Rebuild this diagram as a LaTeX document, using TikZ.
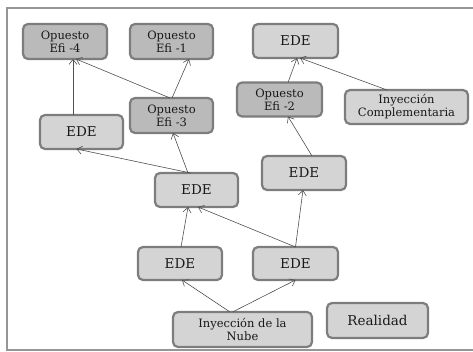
\documentclass[tikz,border=0pt]{standalone}
\usepackage{fontspec}
\setmainfont{DejaVu Serif}
\usetikzlibrary{arrows.meta}
\definecolor{lightfill}{RGB}{212,212,212}
\definecolor{darkfill}{RGB}{186,186,186}
\definecolor{boxline}{RGB}{125,125,125}
\definecolor{arrline}{RGB}{80,80,80}
\definecolor{frameline}{RGB}{150,150,150}
\tikzset{
  box/.style={draw=boxline, line width=2.2pt, rounded corners=5pt, align=center,
    inner sep=1pt, outer sep=0pt, text=black!90},
  lightbox/.style={box, fill=lightfill},
  darkbox/.style={box, fill=darkfill},
  big/.style={font=\fontsize{13.5}{15}\selectfont},
  small/.style={font=\fontsize{11.5}{13}\selectfont},
  arr/.style={draw=arrline, line width=0.6pt, -{Straight Barb[length=5pt,width=8pt]}},
}
\begin{document}
\begin{tikzpicture}[x=1pt, y=-1pt]
\useasboundingbox (0,0) rectangle (473,352);
\draw[frameline, line width=1.5pt] (473,8) -- (7,8) -- (7,350) -- (473,350);

\node[darkbox, small, minimum width=84pt, minimum height=35pt] (e4) at (65,41.5) {Opuesto\\Efi -4};
\node[darkbox, small, minimum width=83pt, minimum height=35pt] (e1) at (171.5,41.5) {Opuesto\\Efi -1};
\node[lightbox, big, minimum width=85pt, minimum height=34pt] (edeTR) at (295.5,41) {EDE};
\node[darkbox, small, minimum width=85pt, minimum height=34pt] (e2) at (279.5,99.5) {Opuesto\\Efi -2};
\node[lightbox, small, minimum width=123pt, minimum height=34pt] (comp) at (406.5,107) {Inyección\\Complementaria};
\node[darkbox, small, minimum width=83pt, minimum height=35pt] (e3) at (171.5,115.5) {Opuesto\\Efi -3};
\node[lightbox, big, minimum width=83pt, minimum height=34pt] (edeL) at (81.5,132) {EDE};
\node[lightbox, big, minimum width=83pt, minimum height=34pt] (edeC) at (196.5,190) {EDE};
\node[lightbox, big, minimum width=84pt, minimum height=34pt] (edeR) at (304,173) {EDE};
\node[lightbox, big, minimum width=84pt, minimum height=33pt] (edeBL) at (180,263.5) {EDE};
\node[lightbox, big, minimum width=85pt, minimum height=33pt] (edeBR) at (295.5,263.5) {EDE};
\node[lightbox, small, minimum width=139pt, minimum height=35pt] (nube) at (242.5,329.5) {Inyección de la\\Nube};
\node[lightbox, big, minimum width=101pt, minimum height=35pt] (real) at (377.5,320.5) {Realidad};

\draw[arr] ([xshift=-8.5pt]edeL.north) -- ([xshift=8pt]e4.south);
\draw[arr] ([xshift=-1.5pt]e3.north) -- ([xshift=11pt]e4.south);
\draw[arr] ([xshift=0.5pt]e3.north) -- ([xshift=17.5pt]e1.south);
\draw[arr] ([xshift=-8.5pt]edeC.north) -- ([xshift=1.5pt]e3.south);
\draw[arr] ([xshift=-6pt]edeC.north) -- ([xshift=-5pt]edeL.south);
\draw[arr] ([xshift=1pt]edeBL.north) -- ([xshift=-8.5pt]edeC.south);
\draw[arr] (edeBR.north) -- ([xshift=1.5pt]edeC.south);
\draw[arr] (edeBR.north) -- ([xshift=-1pt]edeR.south);
\draw[arr] ([xshift=-12.5pt]nube.north) -- ([xshift=2pt]edeBL.south);
\draw[arr] ([xshift=-10pt]nube.north) -- (edeBR.south);
\draw[arr] ([xshift=8pt]edeR.north) -- ([xshift=8.5pt]e2.south);
\draw[arr] ([xshift=8.5pt]e2.north) -- ([xshift=1.5pt]edeTR.south);
\draw[arr] ([xshift=-19.5pt]comp.north) -- ([xshift=4.5pt]edeTR.south);
\end{tikzpicture}
\end{document}
